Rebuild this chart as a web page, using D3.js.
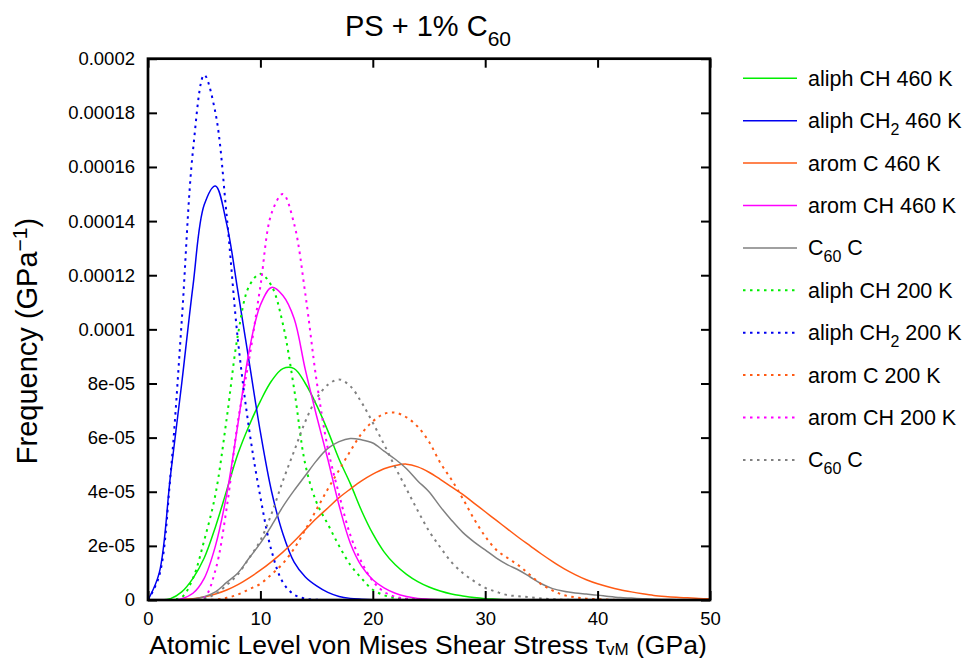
<!DOCTYPE html>
<html>
<head>
<meta charset="utf-8">
<script src="https://cdn.jsdelivr.net/npm/d3@7"></script>
<style>
  body { margin: 0; background: #fff; }
  svg { display: block; font-family: "Liberation Sans", Arial, Helvetica, sans-serif; }
</style>
</head>
<body>
<div id="chart"></div>
<script>

// stress axis (GPa), one sample per GPa
var stress = d3.range(0, 51);

// frequency values in units of 1e-5 GPa^-1
var aliphCH460  = [0,0,0.05,0.3,0.8,1.55,2.7,4.05,5.4,6.45,7.35,8.1,8.55,8.55,8.0,7.2,6.25,5.2,4.3,3.3,2.45,1.78,1.3,0.95,0.68,0.48,0.33,0.22,0.15,0.09,0.05,0.03,0.01,0,0,0,0,0,0,0,0,0,0,0,0,0,0,0,0,0,0];
var aliphCH2460 = [0,1.0,4.6,8.0,11.6,14.6,15.3,13.9,11.4,8.8,6.2,4.0,2.45,1.4,0.85,0.52,0.28,0.13,0.06,0.03,0.01,0,0,0,0,0,0,0,0,0,0,0,0,0,0,0,0,0,0,0,0,0,0,0,0,0,0,0,0,0,0];
var aromC460    = [0,0,0,0.02,0.05,0.11,0.22,0.37,0.57,0.82,1.1,1.42,1.77,2.17,2.6,3.02,3.4,3.78,4.1,4.4,4.65,4.85,4.97,5.02,4.92,4.72,4.46,4.18,3.9,3.58,3.26,2.94,2.62,2.3,2.0,1.7,1.42,1.16,0.94,0.75,0.6,0.48,0.38,0.3,0.23,0.17,0.13,0.1,0.08,0.06,0.05];
var aromCH460   = [0,0,0,0.05,0.25,0.8,2.0,3.9,6.5,9.2,10.9,11.55,11.25,10.4,8.5,6.8,5.2,3.5,2.1,1.25,0.75,0.45,0.25,0.13,0.06,0.03,0.01,0,0,0,0,0,0,0,0,0,0,0,0,0,0,0,0,0,0,0,0,0,0,0,0];
var c60C460     = [0,0,0,0,0.03,0.12,0.3,0.65,1.0,1.55,2.1,2.75,3.45,4.05,4.6,5.15,5.6,5.85,5.97,5.92,5.8,5.5,5.2,4.85,4.4,4.0,3.45,2.95,2.5,2.15,1.85,1.55,1.3,1.1,0.85,0.6,0.42,0.32,0.26,0.22,0.18,0.13,0.09,0.07,0.05,0.03,0.02,0.01,0,0,0];
var aliphCH200  = [0,0,0.02,0.1,0.8,2.2,3.9,6.7,9.8,11.6,12.05,11.6,10.2,7.8,5.0,3.6,2.8,2.0,1.3,0.8,0.38,0.18,0.07,0.03,0.01,0,0,0,0,0,0,0,0,0,0,0,0,0,0,0,0,0,0,0,0,0,0,0,0,0,0];
var aliphCH2200 = [0,0.9,4.6,10.3,16.6,19.4,18.0,14.2,9.6,6.3,3.8,1.8,0.65,0.2,0.05,0.01,0,0,0,0,0,0,0,0,0,0,0,0,0,0,0,0,0,0,0,0,0,0,0,0,0,0,0,0,0,0,0,0,0,0,0];
var aromC200    = [0,0,0,0,0,0,0.02,0.08,0.2,0.4,0.6,0.95,1.35,1.9,2.6,3.35,4.1,4.8,5.5,6.15,6.6,6.88,6.92,6.75,6.4,5.85,5.07,4.45,3.75,3.0,2.35,1.85,1.55,1.27,0.92,0.58,0.35,0.18,0.1,0.05,0.03,0.01,0,0,0,0,0,0,0,0,0];
var aromCH200   = [0,0,0,0,0,0.08,1.1,3.4,6.6,8.9,11.6,14.3,15.0,13.9,11.3,8.1,5.6,3.9,2.4,1.4,0.7,0.3,0.12,0.05,0.02,0,0,0,0,0,0,0,0,0,0,0,0,0,0,0,0,0,0,0,0,0,0,0,0,0,0];
var c60C200     = [0,0,0,0,0,0.05,0.22,0.55,0.95,1.55,2.2,3.2,4.4,5.5,6.6,7.45,7.95,8.15,7.9,7.3,6.55,5.75,4.9,4.1,3.3,2.55,1.95,1.4,1.0,0.7,0.45,0.3,0.18,0.14,0.1,0.06,0.03,0.01,0,0,0,0,0,0,0,0,0,0,0,0,0];

var xTicks = [0, 10, 20, 30, 40, 50];
var yTicks = [0, 2e-5, 4e-5, 6e-5, 8e-5, 1e-4, 1.2e-4, 1.4e-4, 1.6e-4, 1.8e-4, 2e-4];
var yTickLabels = ["0","2e-05","4e-05","6e-05","8e-05","0.0001","0.00012","0.00014","0.00016","0.00018","0.0002"];

// legend order = drawing order
var series = [
    {label: ["aliph CH", "", " 460 K"],  values: aliphCH460,  color: "#00ee00", dotted: false},
    {label: ["aliph CH", "2", " 460 K"], values: aliphCH2460, color: "#0000f0", dotted: false},
    {label: ["arom C 460 K", "", ""],   values: aromC460,    color: "#ff5a14", dotted: false},
    {label: ["arom CH 460 K", "", ""],  values: aromCH460,   color: "#ff00ff", dotted: false},
    {label: ["C", "60", " C"],          values: c60C460,     color: "#808080", dotted: false},
    {label: ["aliph CH", "", " 200 K"],  values: aliphCH200,  color: "#00ee00", dotted: true},
    {label: ["aliph CH", "2", " 200 K"], values: aliphCH2200, color: "#0000f0", dotted: true},
    {label: ["arom C 200 K", "", ""],   values: aromC200,    color: "#ff5a14", dotted: true},
    {label: ["arom CH 200 K", "", ""],  values: aromCH200,   color: "#ff00ff", dotted: true},
    {label: ["C", "60", " C"],          values: c60C200,     color: "#808080", dotted: true}
];


  //**************************************************************************
  //** layout
  //**************************************************************************
    var width = 964, height = 658;
    var plot = {left: 148, right: 710, top: 58.7, bottom: 600};

    var svg = d3.select("#chart").append("svg")
        .attr("width", width)
        .attr("height", height);

    var x = d3.scaleLinear().domain([0, 50]).range([plot.left, plot.right]);
    var y = d3.scaleLinear().domain([0, 2e-4]).range([plot.bottom, plot.top]);

    svg.append("clipPath").attr("id", "clip")
        .append("rect")
        .attr("x", plot.left).attr("y", plot.top)
        .attr("width", plot.right - plot.left)
        .attr("height", plot.bottom - plot.top);


  //**************************************************************************
  //** curves
  //**************************************************************************
    var curves = svg.append("g").attr("clip-path", "url(#clip)");

    var line = d3.line()
        .x(function(d, i){ return x(stress[i]); })
        .y(function(d){ return y(d * 1e-5); })
        .curve(d3.curveCatmullRom.alpha(0.5));

    series.forEach(function(s){
        curves.append("path")
            .datum(s.values)
            .attr("d", line)
            .attr("fill", "none")
            .attr("stroke", s.color)
            .attr("stroke-width", s.dotted ? 2 : 1.5)
            .attr("stroke-dasharray", s.dotted ? "2.5,4.5" : null);
    });


  //**************************************************************************
  //** axes (ticks on all four sides, pointing inward)
  //**************************************************************************
    var tickStyle = function(g){
        g.select(".domain").remove();
        g.selectAll("line").attr("stroke", "#000").attr("stroke-width", 2);
        g.selectAll("text")
            .attr("fill", "#000")
            .style("font-size", "18.5px")
            .style("font-family", "'Liberation Sans', Arial, Helvetica, sans-serif");
    };

    svg.append("g")
        .attr("transform", "translate(0," + plot.bottom + ")")
        .call(d3.axisBottom(x).tickValues(xTicks).tickSize(-9).tickPadding(12))
        .call(tickStyle);

    svg.append("g")
        .attr("transform", "translate(0," + plot.top + ")")
        .call(d3.axisTop(x).tickValues(xTicks).tickSize(-9).tickFormat(""))
        .call(tickStyle);

    svg.append("g")
        .attr("transform", "translate(" + plot.left + ",0)")
        .call(d3.axisLeft(y).tickValues(yTicks).tickSize(-9).tickPadding(13)
            .tickFormat(function(d, i){ return yTickLabels[i]; }))
        .call(tickStyle);

    svg.append("g")
        .attr("transform", "translate(" + plot.right + ",0)")
        .call(d3.axisRight(y).tickValues(yTicks).tickSize(-9).tickFormat(""))
        .call(tickStyle);

    svg.append("rect")
        .attr("x", plot.left).attr("y", plot.top)
        .attr("width", plot.right - plot.left)
        .attr("height", plot.bottom - plot.top)
        .attr("fill", "none")
        .attr("stroke", "#000")
        .attr("stroke-width", 2.7);


  //**************************************************************************
  //** title and axis labels
  //**************************************************************************
    var title = svg.append("text")
        .attr("x", 428).attr("y", 36)
        .attr("text-anchor", "middle")
        .style("font-size", "29px");
    title.append("tspan").text("PS + 1% C");
    title.append("tspan").attr("dy", 9.5).style("font-size", "21px").text("60");

    var xLabel = svg.append("text")
        .attr("x", 428).attr("y", 653.5)
        .attr("text-anchor", "middle")
        .style("font-size", "26.5px");
    xLabel.append("tspan").text("Atomic Level von Mises Shear Stress \u03c4");
    xLabel.append("tspan").attr("dy", 1).style("font-size", "17px").text("vM");
    xLabel.append("tspan").attr("dy", -1).text(" (GPa)");

    var yLabel = svg.append("text")
        .attr("transform", "translate(36.5,341)rotate(-90)")
        .attr("text-anchor", "middle")
        .style("font-size", "29px");
    yLabel.append("tspan").text("Frequency (GPa");
    yLabel.append("tspan").attr("dy", -10).style("font-size", "21px").text("\u22121");
    yLabel.append("tspan").attr("dy", 10).text(")");


  //**************************************************************************
  //** legend
  //**************************************************************************
    var legend = svg.append("g");
    series.forEach(function(s, i){
        var ly = 78.3 + 42.4 * i;
        legend.append("line")
            .attr("x1", 743).attr("x2", 797)
            .attr("y1", ly).attr("y2", ly)
            .attr("stroke", s.color)
            .attr("stroke-width", s.dotted ? 2 : 1.5)
            .attr("stroke-dasharray", s.dotted ? "2.5,4.5" : null);

        var t = legend.append("text")
            .attr("x", 808).attr("y", ly + 7.5)
            .style("font-size", "21.5px");
        t.append("tspan").text(s.label[0]);
        if (s.label[1]) t.append("tspan").attr("dy", 7).style("font-size", "16px").text(s.label[1]);
        if (s.label[2]) t.append("tspan").attr("dy", s.label[1] ? -7 : 0).text(s.label[2]);
    });

</script>
</body>
</html>
